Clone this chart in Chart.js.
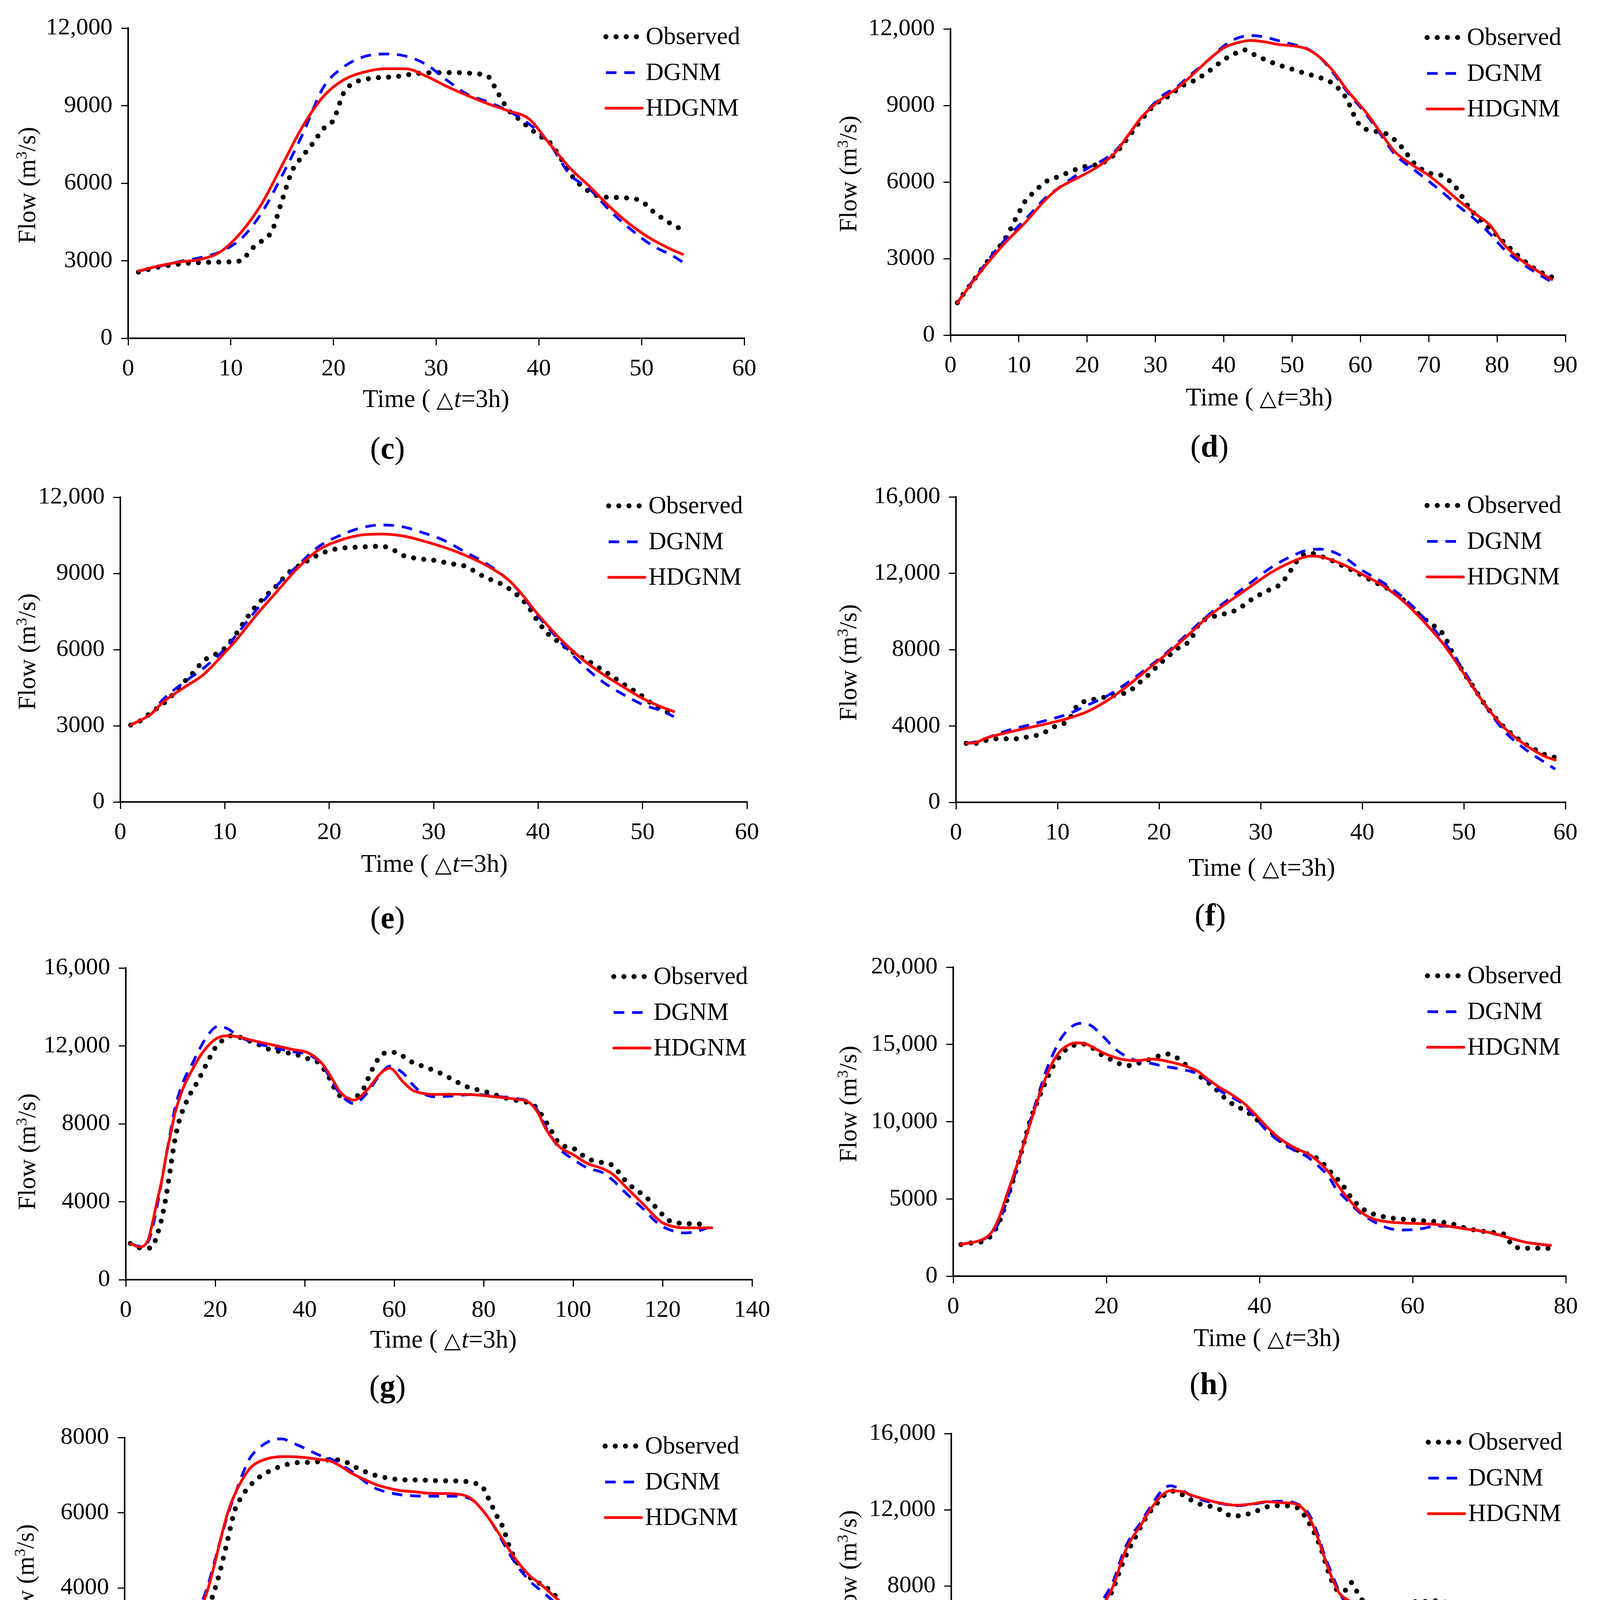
<!DOCTYPE html>
<html>
<head>
<meta charset="utf-8">
<script src="https://cdn.jsdelivr.net/npm/chart.js@4.4.0/dist/chart.umd.min.js"></script>
<style>
html,body{margin:0;padding:0;background:#fff;}
#wrap{position:relative;width:4093px;height:4816px;background:#fff;overflow:hidden;}
#wrap canvas{position:absolute;}
</style>
</head>
<body>
<div id="wrap"></div>
<script>
// ---------------- DATA ----------------
const seriesNames = ['Observed', 'DGNM', 'HDGNM'];
const panelIds = ['c', 'd', 'e', 'f', 'g', 'h', 'i', 'j'];
const xMaxList  = [60, 90, 60, 60, 140, 80, 90, 160];
const xStepList = [10, 10, 10, 10, 20, 20, 15, 20];
const yMaxList  = [12000, 12000, 12000, 16000, 16000, 20000, 8000, 16000];
const yStepList = [3000, 3000, 3000, 4000, 4000, 5000, 2000, 4000];

// (c)
const cObsTime = [1,3,5,7,9,11,12,13,14,15,16,17,18,19,20,21,22,24,26,28,30,32,34,35,36,37,38,40,41,42,43,44,45,46,48,50,51,52,53,54];
const cObserved = [2560,2760,2870,2930,2950,3000,3450,3760,4150,5350,6500,7050,7550,8100,8450,9500,9880,10070,10120,10240,10280,10280,10230,10150,9500,8850,8500,7850,7600,7050,6400,5950,5650,5480,5440,5300,4950,4650,4400,4200];
const cSimTime = [1,3,5,7,9,11,13,15,17,19,21,23,25,27,29,31,33,35,37,39,41,43,45,47,49,51,53,54];
const cDGNM  = [2600,2780,2970,3120,3350,3850,4850,6300,7900,9700,10500,10900,11000,10920,10600,10000,9450,9150,8800,8300,7550,6350,5750,4900,4200,3600,3200,2950];
const cHDGNM = [2600,2800,2950,3050,3350,4100,5200,6700,8200,9350,10000,10300,10430,10430,10150,9750,9400,9080,8800,8500,7550,6600,5850,5050,4370,3830,3420,3250];

// (d)
const dObsTime = [1,2,3,4,6,8,10,11,12,14,16,18,20,22,24,26,28,30,32,34,36,38,40,42,43,44,46,48,50,52,54,56,58,59,60,62,64,66,68,70,72,74,76,78,80,82,84,86,88];
const dObserved = [1270,1650,2000,2380,3100,3780,4800,5280,5550,6020,6230,6460,6630,6720,7080,7740,8460,9050,9380,9780,10020,10380,10790,11080,11180,11050,10800,10590,10420,10250,10100,9850,9250,8650,8200,8000,7860,7380,6700,6360,6240,5780,4960,4420,3900,3380,2900,2520,2280];
const dSimTime = [1,4,8,11,14,16,18,20,22,24,26,28,31,33,35,38,40,42,44,46,48,50,52,54,56,58,61,63,65,68,70,72,74,77,79,81,83,86,88];
const dDGNM  = [1270,2400,3750,4550,5400,5800,6190,6530,6810,7180,7830,8550,9380,9700,10170,10840,11330,11640,11740,11680,11540,11400,11250,10900,10280,9560,8600,7850,7100,6450,6030,5600,5130,4480,3960,3370,2930,2400,2080];
const dHDGNM = [1270,2350,3620,4430,5330,5790,6080,6360,6680,7120,7830,8550,9280,9640,10100,10840,11260,11460,11550,11490,11390,11340,11230,10900,10350,9620,8670,7920,7200,6600,6260,5830,5360,4720,4300,3560,3050,2500,2180];

// (e)
const eObsTime = [1,2,3,4,5,6,7,8,9,10,11,12,13,14,15,16,17,18,19,20,21,22,23,24,25,26,27,28,29,30,31,32,33,34,35,36,37,38,39,40,41,42,43,44,45,46,47,48,49,50,51,52,53];
const eObserved = [3030,3220,3540,3830,4220,4680,5100,5570,5790,6060,6570,7180,7720,8140,8530,8990,9280,9520,9740,9900,9990,10020,10040,10060,10070,9960,9720,9620,9560,9520,9440,9360,9290,9070,8830,8680,8460,8150,7720,7100,6600,6290,5990,5730,5500,5240,4980,4690,4430,4160,3840,3610,3420];
const eSimTime = [1,3,4,6,8,10,11,13,15,17,19,21,23,25,27,29,31,33,35,37,38,40,42,44,46,48,50,52,53];
const eDGNM  = [3030,3480,4000,4680,5280,6020,6520,7550,8530,9320,10060,10490,10790,10910,10840,10600,10300,9850,9400,8800,8380,7320,6380,5500,4790,4270,3840,3560,3360];
const eHDGNM = [3030,3480,3900,4480,5030,5880,6330,7350,8290,9220,9930,10300,10510,10550,10480,10280,10030,9720,9330,8800,8400,7380,6470,5700,5090,4570,4080,3710,3560];

// (f)
const fObsTime = [1,2,3,4,5,6,7,8,9,10,11,12,13,14,15,16,17,18,19,20,21,22,23,24,25,26,27,28,29,30,31,32,33,34,35,36,37,38,39,40,41,42,43,44,45,46,47,48,49,50,51,52,53,54,55,56,57,58,59];
const fObserved = [3090,3090,3250,3330,3330,3330,3420,3520,3740,4050,4250,5100,5330,5440,5550,5650,5800,6240,6700,7220,7690,8130,8450,9390,9660,9830,9940,10200,10590,10900,11170,11450,12180,12900,13040,12880,12670,12410,12160,11880,11600,11330,11050,10630,10150,9650,9270,8790,7700,6780,6000,5180,4500,3920,3470,3070,2770,2500,2350];
const fSimTime = [1,2,3,5,7,9,11,13,15,17,19,21,23,25,27,29,31,33,35,36,38,40,42,44,46,48,50,52,54,56,58,59];
const fDGNM  = [3090,3180,3370,3750,4030,4310,4620,5100,5610,6310,7100,7960,8930,9880,10700,11500,12290,12880,13250,13260,12900,12150,11530,10740,9700,8450,6900,5160,3720,2800,2080,1740];
const fHDGNM = [3090,3140,3370,3650,3890,4120,4390,4770,5370,6150,7020,7890,8830,9800,10560,11300,12030,12580,12900,12850,12480,11940,11360,10560,9500,8280,6750,5180,3900,3030,2400,2220];

// (g)
const gObsTime = [1,3,5,6,7,8,9,10,11,12,14,16,18,20,22,24,26,28,30,32,35,38,41,43,45,47,49,51,53,55,57,59,61,63,65,68,71,74,77,80,83,86,89,91,93,95,97,100,103,106,108,110,112,114,116,118,120,122,125,128,129];
const gObserved = [1860,1640,1620,1700,2300,3100,4250,5750,7200,8200,9350,10150,11050,11900,12350,12540,12400,12220,12040,11830,11690,11560,11320,11150,10550,9700,9250,9330,9750,10750,11500,11670,11620,11280,11080,10820,10530,10150,9840,9680,9460,9260,9140,9000,8450,7700,6970,6750,6250,6030,5970,5570,5000,4620,4300,3840,3340,2970,2890,2860,2860];
const gSimTime = [1,3,5,6,7,8,9,10,11,13,15,16,18,20,21,23,25,28,33,37,41,44,46,48,51,54,57,59,62,64,66,69,73,78,82,87,90,92,94,97,100,103,107,109,112,116,118,120,123,125,128,131];
const gDGNM  = [1860,1720,1950,2700,3780,5000,6340,7600,8820,10250,11150,11620,12440,12960,13010,12850,12520,12220,11910,11710,11540,11000,10200,9520,9040,9600,10580,10950,10600,10050,9620,9390,9430,9510,9430,9300,9150,8700,7800,6720,6180,5760,5450,5080,4400,3560,3080,2730,2460,2400,2500,2750];
const gHDGNM = [1860,1680,2050,2950,4030,5050,6340,7460,8550,9930,10830,11250,11900,12340,12460,12520,12470,12300,12040,11830,11620,11060,10360,9620,9220,9750,10600,10850,10150,9740,9580,9510,9520,9490,9400,9270,9120,8620,7700,6810,6420,5990,5660,5390,4710,3800,3310,2920,2700,2660,2660,2660];

// (h)
const hObsTime = [1,2,4,5,6,7,8,9,10,11,12,13,14,15,16,17,18,19,20,21,22,23,24,25,26,27,28,29,30,31,32,33,34,35,36,37,38,39,40,41,42,43,44,45,46,47,48,49,50,51,52,53,54,55,57,59,61,63,65,67,69,71,72,73,74,76,78];
const hObserved = [2050,2130,2280,2650,3500,4900,6500,8200,10000,11300,12500,13550,14280,14780,14970,15020,14850,14440,14180,13920,13700,13630,13760,13910,14100,14280,14380,14200,13830,13400,13000,12650,12250,11750,11300,11000,10750,10400,9980,9550,9100,8650,8350,8150,7960,7770,7450,6900,6380,5800,5070,4550,4200,4000,3780,3680,3600,3530,3400,3100,2920,2800,2700,2000,1830,1810,1800];
const hSimTime = [1,4,5,6,7,8,9,10,11,12,13,14,15,16,17,18,19,20,21,22,24,26,27,28,30,32,33,35,36,38,39,41,42,43,45,46,47,49,50,51,53,54,55,57,59,61,63,65,67,69,71,73,75,77,78];
const hDGNM  = [2050,2400,2730,3510,4880,6460,8200,9980,11560,13120,14330,15330,15950,16300,16380,16220,15800,15300,14780,14400,13940,13760,13640,13550,13370,13090,12750,11950,11680,11080,10520,9380,8950,8600,8020,7800,7430,6450,5660,5130,4160,3800,3510,3080,2990,3060,3240,3210,3070,2910,2700,2420,2180,2040,1970];
const hHDGNM = [2050,2420,2830,3800,5270,6700,8230,9800,11360,12750,13850,14580,14950,15100,15080,14880,14600,14360,14180,14040,13950,14050,14000,13900,13650,13240,12850,12150,11870,11180,10700,9650,9170,8780,8200,8000,7700,6760,6050,5370,4250,3900,3680,3500,3440,3400,3350,3210,3050,2920,2710,2420,2170,2040,1990];

// (i)
const iObsTime = [1,3,5,7,8,9,10,11,12,13,14,15,16,17,19,21,23,25,27,29,30,32,34,36,38,40,43,46,49,51,52,53,54,55,56,57,58,60,62,64,66,68,70,72,74,76,78,80,82,84,86,88,90];
const iObserved = [2080,1930,1850,1980,2280,2580,2940,3190,3420,3890,4530,5290,6050,6420,6860,7100,7250,7330,7340,7380,7420,7360,7170,7020,6930,6880,6870,6850,6840,6780,6700,6350,5960,5620,5080,4700,4420,4160,3920,3520,3370,3220,3170,3210,3200,3120,2900,2770,2700,2640,2420,2120,1990];
const iSimTime = [1,2,4,5,6,8,9,11,12,13,14,15,16,18,19,21,22,23,24,26,27,29,30,32,33,34,36,37,40,42,44,46,48,50,51,53,54,56,57,59,60,61,63,64,66,67,70,72,73,75,76,78,80,82,84,86,88,90];
const iDGNM  = [2080,2020,1880,1890,2080,2660,2920,3540,4000,4650,5320,5940,6460,7380,7630,7900,7960,7960,7890,7730,7640,7480,7430,7220,7100,6960,6690,6610,6480,6450,6440,6440,6440,6390,6280,5840,5550,4900,4610,4170,4010,3860,3550,3410,3220,3180,3160,3250,3290,3220,3120,2950,2820,2700,2560,2340,2120,1950];
const iHDGNM = [2080,2020,1930,2030,2280,2750,2970,3440,3900,4570,5320,6000,6480,7130,7300,7450,7480,7490,7490,7470,7450,7400,7370,7170,7050,6960,6790,6720,6590,6560,6520,6510,6500,6420,6280,5840,5570,5000,4730,4310,4170,4020,3690,3560,3410,3370,3330,3370,3360,3200,3100,2920,2790,2700,2550,2330,2120,2000];

// (j)
const jObsTime = [1,3,5,7,9,11,13,16,18,20,22,25,27,29,32,34,36,38,40,42,44,46,48,50,52,54,56,58,61,64,67,70,73,76,79,82,85,88,90,92,94,96,98,100,102,104,106,108,111,113,116,119,122,125,127,129,131,133,136,139,142,144,146,148,150,153,156,159];
const jObserved = [1750,1900,2180,2550,2950,3320,3820,4200,4340,4100,3750,3450,3950,4200,4330,4800,5780,6700,7050,7800,8900,9850,10600,11380,11980,12450,12870,12980,12670,12340,12200,12000,11670,11720,11900,12150,12210,12200,12100,11650,10950,10030,8780,7850,7700,8180,7500,7000,6560,6650,7000,7150,7180,7200,7240,7050,6400,5600,5000,4780,4370,4230,4020,3690,3450,3370,3270,3310];
const jSimTime = [1,4,7,9,12,14,16,18,21,24,27,29,32,34,36,38,40,42,45,47,49,52,55,57,60,63,67,70,74,78,82,86,89,91,93,95,97,99,101,103,105,107,109,111,113,116,119,122,125,127,129,131,133,136,139,141,144,147,150,152,155,159];
const jDGNM  = [1750,2290,2910,3470,4310,4790,5050,4850,4140,3910,4130,4310,4660,5000,6200,6830,7460,8200,9900,10680,11260,12230,13060,13260,13020,12680,12420,12330,12210,12280,12410,12450,12380,12190,11780,10880,9660,8620,7650,6950,6620,6480,6420,6400,6620,6930,7140,7180,7100,6990,6720,6000,5350,4900,4550,4320,4020,3740,3320,3170,3070,3100];
const jHDGNM = [1750,2240,2830,3370,4150,4550,4630,4470,4030,3850,4090,4300,4540,5100,5960,6700,7190,7950,9700,10500,11100,12070,12800,13000,12950,12730,12490,12350,12240,12300,12420,12370,12330,12150,11620,10700,9520,8420,7600,7280,7050,6720,6560,6530,6680,6950,7080,7130,7080,7000,6700,6000,5470,5060,4760,4540,4210,3850,3420,3240,3100,3100];

const seriesByPanel = {
  c: [cObsTime, cObserved, cSimTime, cDGNM, cHDGNM],
  d: [dObsTime, dObserved, dSimTime, dDGNM, dHDGNM],
  e: [eObsTime, eObserved, eSimTime, eDGNM, eHDGNM],
  f: [fObsTime, fObserved, fSimTime, fDGNM, fHDGNM],
  g: [gObsTime, gObserved, gSimTime, gDGNM, gHDGNM],
  h: [hObsTime, hObserved, hSimTime, hDGNM, hHDGNM],
  i: [iObsTime, iObserved, iSimTime, iDGNM, iHDGNM],
  j: [jObsTime, jObserved, jSimTime, jDGNM, jHDGNM]
};

// ---------------- LAYOUT / STYLE ----------------
const FONT = '"Liberation Serif", "Times New Roman", Times, serif';
const SYMFONT = '"DejaVu Sans", "Liberation Sans", sans-serif';
const colX = [0, 2046], colW = [2046, 2047];
const rowY = [0, 1200, 2400, 3600], rowH = [1200, 1200, 1200, 1216];
// plot box [left, top, right, bottom] in canvas-local px, and text anchor positions
const layoutInfo = {
  c: {plot:[328,72,1905,866], yT:[68,474], xT:[1116,1020], lab:[992,1148], italicT:true},
  d: {plot:[387,74,1961,858], yT:[124,445], xT:[1177,1016], lab:[1050,1143], italicT:true},
  e: {plot:[308,73,1912,853], yT:[68,468], xT:[1112,1010], lab:[992,1150], italicT:true},
  f: {plot:[401,72,1961,854], yT:[124,496], xT:[1184,1020], lab:[1052,1143], italicT:false},
  g: {plot:[322,78,1925,876], yT:[68,548], xT:[1135,1028], lab:[992,1150], italicT:true},
  h: {plot:[394,76,1962,867], yT:[124,426], xT:[1197,1024], lab:[1048,1143], italicT:true},
  i: {plot:[319,80,1903,850], yT:[64,451], xT:[1114,1004], lab:[992,1149], italicT:true},
  j: {plot:[389,70,1964,850], yT:[124,415], xT:[1177,1004], lab:[1052,1149], italicT:true}
};

function fmtTick(v) {
  return v >= 10000 ? v.toLocaleString('en-US') : String(v);
}

function drawRich(ctx, segs, cx, cy) {
  let total = 0;
  segs.forEach(s => { ctx.font = s.f; s.w = ctx.measureText(s.t).width + (s.pad || 0); total += s.w; });
  let x = cx - total / 2;
  ctx.textAlign = 'left';
  ctx.textBaseline = 'alphabetic';
  segs.forEach(s => {
    ctx.font = s.f;
    ctx.fillText(s.t, x + (s.padL || 0), cy + (s.dy || 0));
    x += s.w;
  });
}

const decoPlugin = {
  id: 'deco',
  afterDraw(chart, args, o) {
    const ctx = chart.ctx;
    const ca = chart.chartArea;
    ctx.save();
    ctx.fillStyle = '#000';
    // y-axis title (baseline offset so that glyphs are centred on the anchor)
    ctx.save();
    ctx.translate(o.yT[0], o.yT[1]);
    ctx.rotate(-Math.PI / 2);
    const yf = '63px ' + FONT;
    drawRich(ctx, [
      {t: 'Flow (m', f: yf},
      {t: '3', f: '40px ' + FONT, dy: -22},
      {t: '/s)', f: yf}
    ], 0, 22);
    ctx.restore();
    // x-axis title
    const tf = '65px ' + FONT;
    drawRich(ctx, [
      {t: 'Time ( ', f: tf},
      {t: '△', f: '56px ' + SYMFONT, pad: 2},
      {t: 't', f: (o.italicT ? 'italic ' : '') + tf},
      {t: '=3h)', f: tf}
    ], o.xT[0], o.xT[1] + 22);
    // panel label
    const lf = '80px ' + FONT;
    drawRich(ctx, [{t: '(', f: lf}, {t: o.id, f: 'bold ' + lf}, {t: ')', f: lf}], o.lab[0], o.lab[1] + 26);
    // legend (top-right inside plot area)
    const textX = ca.right - 252;
    const rows = [ca.top + 22, ca.top + 114, ca.top + 205];
    const lineLens = [83, 76, 93];
    chart.data.datasets.forEach((ds, k) => {
      const y = rows[k];
      const x0 = textX - 102;
      ctx.save();
      ctx.strokeStyle = ds.borderColor;
      ctx.lineWidth = ds.borderWidth;
      ctx.lineCap = ds.borderCapStyle || 'butt';
      ctx.setLineDash(ds.borderDash || []);
      ctx.beginPath();
      ctx.moveTo(x0, y);
      ctx.lineTo(x0 + lineLens[k], y);
      ctx.stroke();
      ctx.restore();
      ctx.font = '63px ' + FONT;
      ctx.textAlign = 'left';
      ctx.textBaseline = 'middle';
      ctx.fillStyle = '#000';
      ctx.fillText(ds.label, textX, y + 2);
    });
    ctx.restore();
  }
};

const wrap = document.getElementById('wrap');
panelIds.forEach((id, idx) => {
  const col = idx % 2, row = Math.floor(idx / 2);
  const W = colW[col], H = rowH[row];
  const L = layoutInfo[id];
  const [pl, pt, pr, pb] = L.plot;
  const cv = document.createElement('canvas');
  cv.width = W; cv.height = H;
  cv.style.left = colX[col] + 'px';
  cv.style.top = rowY[row] + 'px';
  cv.style.width = W + 'px';
  cv.style.height = H + 'px';
  wrap.appendChild(cv);

  const [obsT, obs, simT, dg, hd] = seriesByPanel[id];
  const toXY = (ts, vs) => ts.map((t, i) => ({x: t, y: vs[i]}));

  const tickFont = {family: FONT, size: 62};
  new Chart(cv.getContext('2d'), {
    type: 'line',
    data: {
      datasets: [
        {label: seriesNames[0], data: toXY(obsT, obs), borderColor: '#000000', borderWidth: 13,
         borderDash: [0, 26], borderCapStyle: 'round', pointRadius: 0, cubicInterpolationMode: 'monotone', order: 3, fill: false},
        {label: seriesNames[1], data: toXY(simT, dg), borderColor: '#0000ff', borderWidth: 7,
         borderDash: [27, 20], borderCapStyle: 'butt', pointRadius: 0, cubicInterpolationMode: 'monotone', order: 2, fill: false},
        {label: seriesNames[2], data: toXY(simT, hd), borderColor: '#ff0000', borderWidth: 7,
         borderDash: [], borderCapStyle: 'round', pointRadius: 0, cubicInterpolationMode: 'monotone', order: 1, fill: false}
      ]
    },
    options: {
      responsive: false,
      animation: false,
      devicePixelRatio: 1,
      events: [],
      layout: {padding: {left: 0, top: pt, right: W - pr, bottom: 0}},
      plugins: {
        legend: {display: false},
        tooltip: {enabled: false},
        deco: {id: id, yT: L.yT, xT: L.xT, lab: L.lab, italicT: L.italicT}
      },
      scales: {
        x: {
          type: 'linear', min: 0, max: xMaxList[idx],
          ticks: {stepSize: xStepList[idx], color: '#000', font: tickFont, padding: 24, maxRotation: 0, autoSkip: false, callback: fmtTick},
          grid: {display: true, drawOnChartArea: false, drawTicks: true, tickLength: 18, color: '#000', lineWidth: 3},
          border: {display: true, color: '#000', width: 4},
          title: {display: false},
          afterFit: (s) => { s.height = H - pb; }
        },
        y: {
          type: 'linear', min: 0, max: yMaxList[idx],
          ticks: {stepSize: yStepList[idx], color: '#000', font: tickFont, padding: 22, autoSkip: false, callback: fmtTick},
          grid: {display: true, drawOnChartArea: false, drawTicks: true, tickLength: 18, color: '#000', lineWidth: 3},
          border: {display: true, color: '#000', width: 4},
          title: {display: false},
          afterFit: (s) => { s.width = pl; }
        }
      }
    },
    plugins: [decoPlugin]
  });
});
</script>
</body>
</html>
